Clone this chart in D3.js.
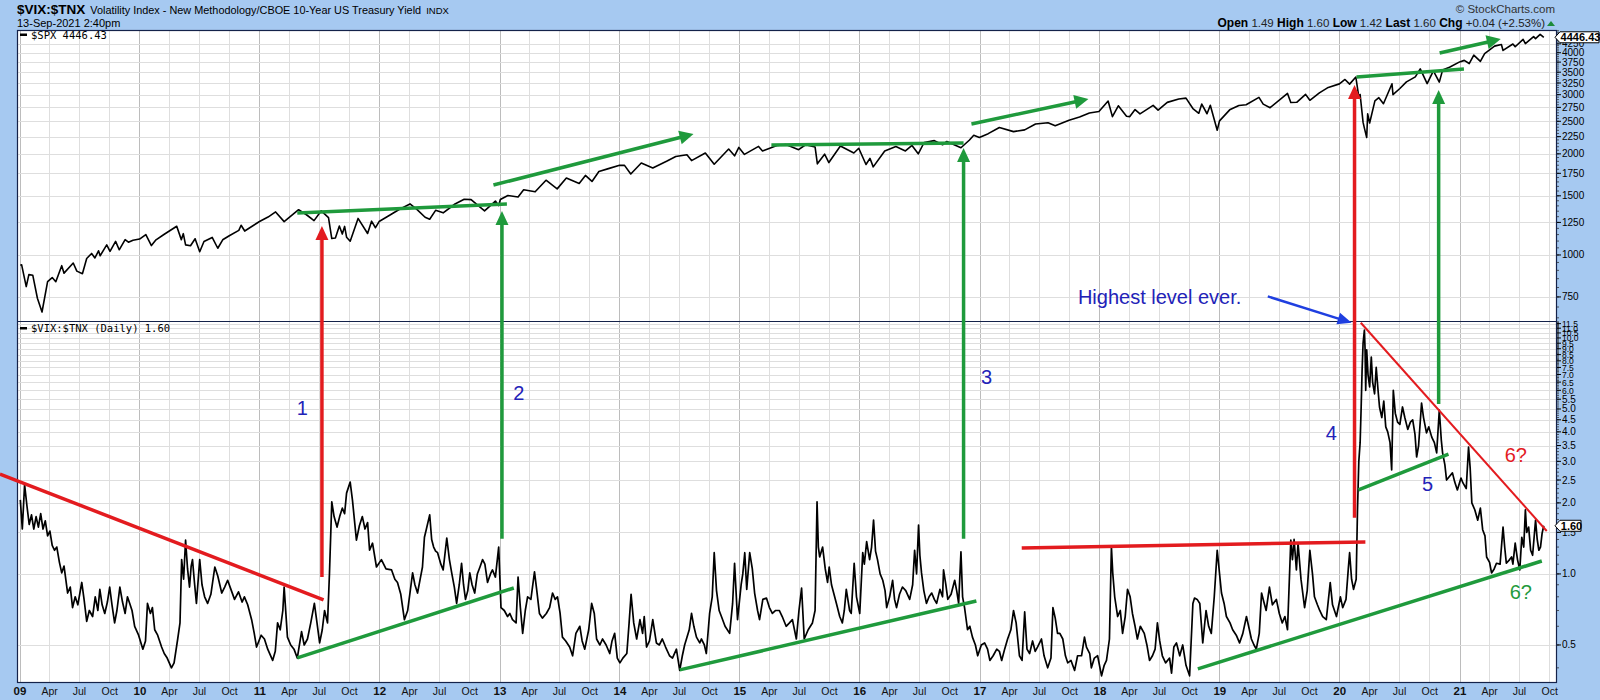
<!DOCTYPE html>
<html><head><meta charset="utf-8">
<script src="https://cdn.jsdelivr.net/npm/d3@7"></script>
<style>body{margin:0;background:#fff;}svg{display:block;font-family:"Liberation Sans",Arial,sans-serif;}</style>
</head><body><svg id="c" width="1600" height="700"></svg>
<script>
// ---------------- DATA ----------------
const spxSeries = [
["2009-01-02",931.8],["2009-01-06",934.7],["2009-01-20",805.2],["2009-01-28",874.1],["2009-02-09",869.9],["2009-02-23",743.3],["2009-03-09",676.5],["2009-03-26",832.9],["2009-04-09",856.6],["2009-04-20",832.4],["2009-05-08",929.2],["2009-05-15",882.9],["2009-06-12",946.2],["2009-06-23",895.1],["2009-07-10",879.1],["2009-07-23",976.3],["2009-08-07",1010.5],["2009-08-17",979.7],["2009-08-28",1028.9],["2009-09-02",994.8],["2009-09-22",1071.7],["2009-10-02",1025.2],["2009-10-19",1097.9],["2009-10-30",1036.2],["2009-11-17",1110.3],["2009-11-27",1091.5],["2009-12-11",1106.4],["2009-12-31",1115.1],
["2010-01-19",1150.2],["2010-02-05",1066.2],["2010-02-19",1109.2],["2010-03-15",1150.5],["2010-04-23",1217.3],["2010-05-07",1110.9],["2010-05-13",1157.4],["2010-05-20",1071.6],["2010-06-04",1064.9],["2010-06-18",1117.5],["2010-07-02",1022.6],["2010-07-15",1096.5],["2010-08-09",1127.8],["2010-08-26",1047.2],["2010-09-10",1109.6],["2010-09-30",1141.2],["2010-10-29",1183.3],["2010-11-05",1225.9],["2010-11-16",1178.3],["2010-12-31",1257.6],
["2011-01-26",1296.6],["2011-02-18",1343.0],["2011-03-16",1256.9],["2011-04-29",1363.6],["2011-05-23",1317.4],["2011-06-15",1265.4],["2011-07-07",1353.2],["2011-07-29",1292.3],["2011-08-08",1119.5],["2011-08-19",1123.5],["2011-08-31",1218.9],["2011-09-09",1154.2],["2011-09-16",1216.0],["2011-09-22",1129.6],["2011-10-03",1099.2],["2011-10-27",1284.6],["2011-11-25",1158.7],["2011-12-07",1261.0],["2011-12-19",1205.4],["2011-12-30",1257.6],
["2012-01-31",1312.4],["2012-02-29",1365.7],["2012-04-02",1419.0],["2012-04-23",1366.9],["2012-05-18",1295.2],["2012-06-01",1278.0],["2012-06-19",1357.9],["2012-07-12",1334.8],["2012-08-17",1418.2],["2012-09-14",1465.8],["2012-10-05",1460.9],["2012-11-15",1353.3],["2012-12-18",1446.8],["2012-12-28",1402.4],
["2013-01-02",1462.4],["2013-01-25",1502.9],["2013-02-25",1487.9],["2013-03-14",1563.2],["2013-04-18",1541.6],["2013-05-21",1669.2],["2013-06-24",1573.1],["2013-07-22",1695.5],["2013-08-30",1633.0],["2013-09-18",1725.5],["2013-10-08",1655.5],["2013-10-29",1771.9],["2013-11-27",1807.2],["2013-12-31",1848.4],
["2014-01-15",1848.4],["2014-02-03",1741.9],["2014-03-07",1878.0],["2014-04-11",1815.7],["2014-05-23",1900.5],["2014-06-20",1962.9],["2014-07-24",1987.0],["2014-08-07",1909.6],["2014-09-18",2011.4],["2014-10-15",1862.5],["2014-11-28",2067.6],["2014-12-16",1972.7],["2014-12-29",2090.6],
["2015-01-15",1992.7],["2015-02-27",2104.5],["2015-03-11",2040.2],["2015-04-24",2117.7],["2015-05-21",2130.8],["2015-06-29",2057.6],["2015-07-20",2128.3],["2015-08-18",2096.9],["2015-08-25",1867.6],["2015-09-16",1995.3],["2015-09-29",1884.1],["2015-11-03",2109.8],["2015-12-14",2012.0],["2015-12-29",2078.4],
["2016-01-20",1859.3],["2016-02-01",1939.4],["2016-02-11",1829.1],["2016-03-17",2040.6],["2016-04-20",2102.4],["2016-05-19",2040.0],["2016-06-08",2119.1],["2016-06-27",2000.5],["2016-07-15",2161.7],["2016-08-15",2190.2],["2016-09-09",2127.8],["2016-09-22",2177.2],["2016-11-04",2085.2],["2016-11-30",2198.8],["2016-12-13",2271.7],["2016-12-30",2238.8],
["2017-01-26",2296.7],["2017-03-01",2396.0],["2017-04-13",2329.0],["2017-05-17",2357.0],["2017-06-19",2453.5],["2017-07-27",2475.4],["2017-08-18",2425.6],["2017-09-29",2519.4],["2017-10-31",2575.3],["2017-11-30",2647.6],["2017-12-29",2673.6],
["2018-01-26",2872.9],["2018-02-08",2581.0],["2018-02-26",2779.6],["2018-03-23",2588.3],["2018-04-02",2581.9],["2018-04-18",2708.6],["2018-05-03",2629.7],["2018-06-12",2786.9],["2018-06-27",2699.6],["2018-07-25",2846.1],["2018-08-29",2914.0],["2018-09-20",2930.8],["2018-10-11",2728.4],["2018-10-29",2641.3],["2018-11-07",2813.9],["2018-11-23",2632.6],["2018-12-03",2790.4],["2018-12-24",2351.1],["2018-12-31",2506.9],
["2019-01-31",2704.1],["2019-02-28",2784.5],["2019-03-22",2800.7],["2019-04-30",2945.8],["2019-05-13",2811.9],["2019-06-03",2744.5],["2019-07-26",3025.9],["2019-08-05",2844.7],["2019-08-23",2847.1],["2019-09-19",3006.8],["2019-10-02",2887.6],["2019-10-31",3037.6],["2019-11-27",3153.6],["2019-12-31",3230.8],
["2020-01-17",3329.6],["2020-01-31",3225.5],["2020-02-19",3386.2],["2020-02-28",2954.2],["2020-03-03",3003.4],["2020-03-12",2480.6],["2020-03-16",2386.1],["2020-03-23",2237.4],["2020-03-26",2630.1],["2020-04-01",2470.5],["2020-04-17",2874.6],["2020-04-29",2939.5],["2020-05-13",2820.0],["2020-06-08",3232.4],["2020-06-11",3002.1],["2020-07-02",3130.0],["2020-07-22",3276.0],["2020-08-18",3389.8],["2020-09-02",3580.8],["2020-09-23",3236.9],["2020-10-12",3534.2],["2020-10-30",3270.0],["2020-11-09",3550.5],["2020-11-30",3622.0],["2020-12-31",3756.1],
["2021-01-14",3795.5],["2021-01-29",3714.2],["2021-02-12",3934.8],["2021-03-04",3768.5],["2021-03-17",3974.1],["2021-04-16",4185.5],["2021-05-07",4232.6],["2021-05-12",4063.0],["2021-06-11",4247.4],["2021-06-18",4166.5],["2021-07-12",4384.6],["2021-07-19",4258.5],["2021-08-13",4468.0],["2021-08-19",4405.8],["2021-09-02",4536.9],["2021-09-13",4446.43]
];

const ratioSeries = [
["2009-01-02",2.06],["2009-01-08",1.55],["2009-01-15",2.39],["2009-01-22",1.95],["2009-01-29",1.62],["2009-02-05",1.78],["2009-02-12",1.55],["2009-02-19",1.75],["2009-02-26",1.58],["2009-03-05",1.80],["2009-03-12",1.55],["2009-03-19",1.68],["2009-03-26",1.45],["2009-04-02",1.52],["2009-04-09",1.32],["2009-04-16",1.26],["2009-04-23",1.30],["2009-05-01",1.12],["2009-05-08",1.01],["2009-05-15",1.08],["2009-05-26",0.83],["2009-06-03",0.88],["2009-06-10",0.72],["2009-06-18",0.80],["2009-06-26",0.74],["2009-07-08",0.92],["2009-07-15",0.78],["2009-07-23",0.63],["2009-07-31",0.70],["2009-08-10",0.66],["2009-08-18",0.80],["2009-08-26",0.70],["2009-09-01",0.86],["2009-09-08",0.74],["2009-09-16",0.68],["2009-09-24",0.76],["2009-10-01",0.88],["2009-10-08",0.74],["2009-10-16",0.62],["2009-10-23",0.70],["2009-11-01",0.88],["2009-11-09",0.76],["2009-11-17",0.68],["2009-11-24",0.80],["2009-12-01",0.75],["2009-12-08",0.70],["2009-12-16",0.60],["2009-12-28",0.55],
["2010-01-10",0.48],["2010-01-18",0.52],["2010-01-24",0.75],["2010-02-02",0.68],["2010-02-08",0.72],["2010-02-15",0.58],["2010-02-24",0.55],["2010-03-08",0.49],["2010-03-16",0.46],["2010-03-25",0.44],["2010-04-07",0.40],["2010-04-15",0.42],["2010-04-26",0.53],["2010-05-03",0.62],["2010-05-08",1.15],["2010-05-14",0.95],["2010-05-20",1.39],["2010-05-26",1.05],["2010-06-01",0.88],["2010-06-06",1.08],["2010-06-10",1.15],["2010-06-16",0.92],["2010-06-22",0.75],["2010-07-02",1.15],["2010-07-09",0.90],["2010-07-17",0.80],["2010-07-26",0.75],["2010-08-05",0.82],["2010-08-17",1.07],["2010-08-26",0.98],["2010-09-07",0.83],["2010-09-16",0.88],["2010-09-25",0.94],["2010-10-05",0.86],["2010-10-16",0.78],["2010-10-28",0.84],["2010-11-08",0.76],["2010-11-15",0.80],["2010-11-25",0.74],["2010-12-07",0.64],["2010-12-15",0.56],["2010-12-22",0.49],
["2011-01-05",0.55],["2011-01-15",0.53],["2011-01-25",0.48],["2011-02-09",0.43],["2011-02-17",0.47],["2011-02-24",0.62],["2011-03-04",0.58],["2011-03-12",0.70],["2011-03-16",0.88],["2011-03-26",0.54],["2011-04-05",0.50],["2011-04-15",0.48],["2011-04-25",0.44],["2011-05-08",0.57],["2011-05-16",0.50],["2011-05-26",0.53],["2011-06-05",0.62],["2011-06-16",0.75],["2011-06-24",0.62],["2011-07-02",0.51],["2011-07-10",0.58],["2011-07-17",0.70],["2011-07-26",0.62],["2011-08-01",1.01],["2011-08-08",2.02],["2011-08-15",1.75],["2011-08-24",1.58],["2011-09-01",1.75],["2011-09-09",1.90],["2011-09-16",1.80],["2011-09-22",2.20],["2011-10-03",2.45],["2011-10-10",2.05],["2011-10-22",1.39],["2011-10-31",1.60],["2011-11-09",1.75],["2011-11-17",1.55],["2011-11-25",1.65],["2011-12-01",1.26],["2011-12-10",1.35],["2011-12-22",1.07],
["2012-01-06",1.15],["2012-01-20",1.05],["2012-02-06",1.04],["2012-02-16",0.95],["2012-02-24",0.92],["2012-03-05",0.82],["2012-03-16",0.64],["2012-03-26",0.70],["2012-04-10",1.01],["2012-04-17",0.90],["2012-04-25",0.83],["2012-05-03",0.95],["2012-05-10",1.07],["2012-05-16",1.43],["2012-05-22",1.55],["2012-06-01",1.78],["2012-06-07",1.40],["2012-06-13",1.30],["2012-06-19",1.25],["2012-06-25",1.23],["2012-07-05",1.10],["2012-07-12",1.04],["2012-07-23",1.42],["2012-07-31",1.15],["2012-08-07",1.01],["2012-08-15",0.88],["2012-08-22",0.75],["2012-08-30",0.90],["2012-09-06",1.11],["2012-09-12",0.90],["2012-09-18",0.78],["2012-09-25",0.85],["2012-10-01",1.01],["2012-10-08",0.90],["2012-10-16",0.83],["2012-10-24",1.00],["2012-11-01",1.07],["2012-11-09",1.15],["2012-11-16",1.10],["2012-11-24",0.92],["2012-12-03",1.00],["2012-12-09",1.04],["2012-12-18",0.97],["2012-12-28",1.30],
["2013-01-04",0.72],["2013-01-14",0.70],["2013-01-24",0.66],["2013-01-31",0.68],["2013-02-08",0.64],["2013-02-19",0.62],["2013-02-25",0.97],["2013-03-04",0.72],["2013-03-11",0.56],["2013-03-19",0.70],["2013-03-26",0.80],["2013-04-05",0.78],["2013-04-16",1.02],["2013-04-23",0.85],["2013-05-01",0.68],["2013-05-10",0.65],["2013-05-22",0.68],["2013-06-01",0.72],["2013-06-10",0.83],["2013-06-18",0.78],["2013-06-25",0.80],["2013-07-03",0.68],["2013-07-10",0.54],["2013-07-20",0.52],["2013-08-01",0.49],["2013-08-10",0.45],["2013-08-20",0.56],["2013-09-01",0.60],["2013-09-08",0.52],["2013-09-16",0.48],["2013-09-28",0.58],["2013-10-07",0.75],["2013-10-15",0.68],["2013-10-22",0.53],["2013-11-01",0.50],["2013-11-09",0.53],["2013-11-20",0.50],["2013-12-01",0.46],["2013-12-08",0.52],["2013-12-16",0.56],["2013-12-24",0.44],
["2014-01-01",0.42],["2014-01-10",0.44],["2014-01-22",0.46],["2014-01-29",0.62],["2014-02-04",0.82],["2014-02-12",0.62],["2014-02-21",0.53],["2014-03-03",0.64],["2014-03-11",0.56],["2014-03-16",0.66],["2014-03-23",0.49],["2014-04-01",0.52],["2014-04-11",0.64],["2014-04-22",0.51],["2014-05-01",0.50],["2014-05-10",0.53],["2014-05-20",0.49],["2014-06-01",0.45],["2014-06-10",0.44],["2014-06-22",0.48],["2014-07-02",0.39],["2014-07-10",0.45],["2014-07-17",0.50],["2014-07-31",0.58],["2014-08-07",0.68],["2014-08-14",0.60],["2014-08-22",0.54],["2014-09-01",0.51],["2014-09-06",0.53],["2014-09-15",0.50],["2014-09-21",0.46],["2014-10-01",0.68],["2014-10-09",0.80],["2014-10-15",1.23],["2014-10-22",0.85],["2014-10-30",0.70],["2014-11-06",0.66],["2014-11-17",0.60],["2014-12-01",0.56],["2014-12-10",0.75],["2014-12-16",1.11],["2014-12-25",0.64],
["2015-01-05",0.90],["2015-01-10",1.00],["2015-01-16",1.23],["2015-01-22",0.86],["2015-01-31",1.23],["2015-02-08",1.05],["2015-02-15",0.83],["2015-02-24",0.70],["2015-03-02",0.64],["2015-03-12",0.78],["2015-03-23",0.79],["2015-04-01",0.72],["2015-04-10",0.68],["2015-04-20",0.70],["2015-05-01",0.70],["2015-05-10",0.66],["2015-05-22",0.60],["2015-06-01",0.62],["2015-06-10",0.64],["2015-06-22",0.53],["2015-06-30",0.70],["2015-07-08",0.87],["2015-07-16",0.53],["2015-07-28",0.58],["2015-08-10",0.62],["2015-08-18",0.70],["2015-08-24",2.02],["2015-08-28",1.30],["2015-09-01",1.18],["2015-09-10",1.30],["2015-09-18",1.05],["2015-09-25",0.92],["2015-09-30",1.07],["2015-10-07",0.90],["2015-10-22",0.75],["2015-11-01",0.66],["2015-11-09",0.62],["2015-11-15",0.70],["2015-11-21",0.86],["2015-12-01",0.70],["2015-12-06",0.68],["2015-12-15",1.11],["2015-12-22",0.80],
["2016-01-01",0.68],["2016-01-10",1.23],["2016-01-15",1.10],["2016-01-22",1.37],["2016-01-31",1.15],["2016-02-06",1.30],["2016-02-12",1.69],["2016-02-18",1.25],["2016-02-24",1.15],["2016-03-03",1.00],["2016-03-11",0.94],["2016-03-18",0.85],["2016-03-23",0.72],["2016-04-01",0.80],["2016-04-10",0.94],["2016-04-16",0.78],["2016-04-22",0.72],["2016-05-01",0.82],["2016-05-10",0.88],["2016-05-20",0.85],["2016-06-01",0.78],["2016-06-10",0.90],["2016-06-16",1.26],["2016-06-22",1.00],["2016-06-28",1.61],["2016-07-02",1.20],["2016-07-07",1.01],["2016-07-14",0.85],["2016-07-22",0.75],["2016-07-30",0.80],["2016-08-07",0.83],["2016-08-15",0.78],["2016-08-22",0.75],["2016-09-01",0.86],["2016-09-09",0.80],["2016-09-12",1.04],["2016-09-19",0.90],["2016-09-25",0.78],["2016-10-05",0.82],["2016-10-16",0.94],["2016-10-22",0.85],["2016-10-28",0.75],["2016-11-04",1.24],["2016-11-09",0.80],["2016-11-15",0.72],["2016-11-24",0.58],["2016-12-01",0.60],["2016-12-09",0.54],["2016-12-18",0.50],["2016-12-25",0.45],
["2017-01-05",0.50],["2017-01-15",0.51],["2017-01-24",0.48],["2017-01-31",0.43],["2017-02-10",0.45],["2017-02-21",0.48],["2017-03-01",0.47],["2017-03-08",0.43],["2017-03-17",0.48],["2017-03-26",0.53],["2017-04-05",0.58],["2017-04-13",0.70],["2017-04-21",0.62],["2017-05-01",0.45],["2017-05-09",0.43],["2017-05-17",0.69],["2017-05-24",0.48],["2017-06-01",0.46],["2017-06-10",0.52],["2017-06-18",0.47],["2017-06-25",0.49],["2017-07-07",0.53],["2017-07-15",0.45],["2017-07-26",0.40],["2017-08-05",0.44],["2017-08-11",0.72],["2017-08-18",0.65],["2017-08-25",0.56],["2017-09-01",0.56],["2017-09-10",0.53],["2017-09-18",0.45],["2017-09-25",0.42],["2017-10-05",0.43],["2017-10-16",0.39],["2017-10-25",0.45],["2017-11-06",0.45],["2017-11-15",0.54],["2017-11-21",0.49],["2017-12-01",0.46],["2017-12-06",0.40],["2017-12-15",0.44],["2017-12-25",0.45],
["2018-01-06",0.37],["2018-01-14",0.41],["2018-01-21",0.43],["2018-01-30",0.53],["2018-02-05",1.30],["2018-02-09",1.01],["2018-02-15",0.80],["2018-02-24",0.66],["2018-03-04",0.70],["2018-03-11",0.56],["2018-03-19",0.66],["2018-03-26",0.86],["2018-04-03",0.80],["2018-04-10",0.68],["2018-04-18",0.60],["2018-04-25",0.53],["2018-05-04",0.60],["2018-05-16",0.56],["2018-05-24",0.50],["2018-06-01",0.43],["2018-06-10",0.45],["2018-06-18",0.48],["2018-06-25",0.62],["2018-07-02",0.52],["2018-07-10",0.45],["2018-07-20",0.42],["2018-08-01",0.44],["2018-08-07",0.38],["2018-08-14",0.49],["2018-08-22",0.51],["2018-09-01",0.45],["2018-09-10",0.50],["2018-09-20",0.41],["2018-10-01",0.37],["2018-10-11",0.75],["2018-10-16",0.79],["2018-10-24",0.78],["2018-11-01",0.75],["2018-11-10",0.51],["2018-11-20",0.70],["2018-11-28",0.60],["2018-12-06",0.56],["2018-12-15",0.80],["2018-12-24",1.26],
["2019-01-06",0.83],["2019-01-14",0.75],["2019-01-21",0.66],["2019-02-01",0.62],["2019-02-09",0.58],["2019-02-20",0.55],["2019-03-02",0.51],["2019-03-12",0.56],["2019-03-23",0.66],["2019-04-01",0.58],["2019-04-07",0.53],["2019-04-15",0.50],["2019-04-22",0.48],["2019-05-01",0.56],["2019-05-08",0.83],["2019-05-15",0.76],["2019-05-22",0.70],["2019-06-01",0.88],["2019-06-10",0.74],["2019-06-22",0.78],["2019-07-01",0.68],["2019-07-10",0.62],["2019-07-18",0.66],["2019-07-26",0.58],["2019-08-05",1.39],["2019-08-10",1.15],["2019-08-15",1.40],["2019-08-22",1.04],["2019-08-27",1.35],["2019-09-05",0.95],["2019-09-16",0.72],["2019-09-24",0.85],["2019-10-02",1.26],["2019-10-10",1.00],["2019-10-16",0.80],["2019-10-25",0.74],["2019-11-01",0.70],["2019-11-10",0.66],["2019-11-21",0.64],["2019-12-03",0.92],["2019-12-10",0.74],["2019-12-22",0.66],
["2020-01-03",0.80],["2020-01-10",0.72],["2020-01-20",0.78],["2020-01-27",1.05],["2020-01-31",1.23],["2020-02-06",0.95],["2020-02-12",0.86],["2020-02-20",0.95],["2020-02-24",1.87],["2020-02-28",3.00],["2020-03-03",3.60],["2020-03-06",5.00],["2020-03-09",7.30],["2020-03-12",9.50],["2020-03-16",10.8],["2020-03-18",9.00],["2020-03-20",6.0],["2020-03-23",8.9],["2020-03-27",7.0],["2020-04-01",6.2],["2020-04-06",8.3],["2020-04-10",6.5],["2020-04-16",5.8],["2020-04-21",7.5],["2020-04-27",5.9],["2020-05-01",5.1],["2020-05-08",4.6],["2020-05-14",5.4],["2020-05-20",4.2],["2020-05-26",4.0],["2020-06-02",3.6],["2020-06-07",2.76],["2020-06-12",6.0],["2020-06-18",4.8],["2020-06-25",4.4],["2020-07-02",4.3],["2020-07-10",5.1],["2020-07-17",4.6],["2020-07-26",4.1],["2020-08-03",4.4],["2020-08-10",4.5],["2020-08-17",3.9],["2020-08-22",3.13],["2020-08-28",3.5],["2020-09-06",5.3],["2020-09-12",4.6],["2020-09-21",3.96],["2020-09-28",4.2],["2020-10-07",3.8],["2020-10-15",3.6],["2020-10-22",3.26],["2020-10-30",4.95],["2020-11-05",3.7],["2020-11-09",3.26],["2020-11-16",2.9],["2020-11-21",2.5],["2020-12-01",2.6],["2020-12-09",2.68],["2020-12-16",2.45],["2020-12-24",2.27],
["2021-01-04",2.55],["2021-01-10",2.43],["2021-01-20",2.30],["2021-01-27",3.45],["2021-02-01",2.80],["2021-02-06",2.00],["2021-02-15",1.87],["2021-02-24",1.69],["2021-03-04",1.90],["2021-03-11",1.54],["2021-03-18",1.45],["2021-03-23",1.18],["2021-04-01",1.12],["2021-04-07",1.01],["2021-04-15",1.05],["2021-04-22",1.11],["2021-05-03",1.10],["2021-05-12",1.58],["2021-05-17",1.30],["2021-05-22",1.11],["2021-06-01",1.15],["2021-06-07",1.18],["2021-06-11",1.10],["2021-06-18",1.35],["2021-06-25",1.15],["2021-07-02",1.04],["2021-07-08",1.43],["2021-07-14",1.30],["2021-07-19",1.87],["2021-07-23",1.50],["2021-07-29",1.58],["2021-08-04",1.26],["2021-08-10",1.20],["2021-08-19",1.69],["2021-08-24",1.40],["2021-08-29",1.26],["2021-09-03",1.30],["2021-09-08",1.49],["2021-09-13",1.60]
];

const spxTicks = [750,1000,1250,1500,1750,2000,2250,2500,2750,3000,3250,3500,3750,4000,4250];
const ratioTicks = [0.5,1.0,1.5,2.0,2.5,3.0,3.5,4.0,4.5,5.0,5.5,6.0,6.5,7.0,7.5,8.0,8.5,9.0,9.5,10.0,10.5,11.0,11.5];
const spxLast = "4446.43";
const ratioLast = "1.60";
const quote = [["Open","1.49"],["High","1.60"],["Low","1.42"],["Last","1.60"],["Chg","+0.04 (+2.53%)"]];

// annotation geometry in data coordinates
const topLines = [
  ["2011-04-25",1334,"2013-01-22",1418],
  ["2015-04-07",2125,"2016-11-12",2154],
  ["2020-02-21",3385,"2021-01-13",3577]
];
const topArrows = [
  ["2012-12-12",1615,"2014-08-13",2292],
  ["2016-12-06",2455,"2017-11-27",2913],
  ["2020-10-31",3991,"2021-05-05",4393]
];
const crossArrows = [ // date, bottom value (ratio), tip value (SPX), colour
  ["2011-07-09",0.971,1220,"r"],
  ["2013-01-07",1.41,1352,"g"],
  ["2016-11-12",1.41,2081,"g"],
  ["2020-02-15",1.73,3206,"r"],
  ["2020-10-28",5.25,3098,"g"]
];
const botLines = [
  ["2008-11-01",2.65,"2011-07-14",0.776,"r",3.5],
  ["2011-04-25",0.441,"2013-02-12",0.872,"g",3.5],
  ["2014-07-02",0.392,"2016-12-21",0.768,"g",3.5],
  ["2017-05-08",1.289,"2020-03-19",1.366,"r",3.5],
  ["2018-10-26",0.396,"2021-09-07",1.135,"g",3.5],
  ["2020-02-27",2.27,"2020-11-27",3.22,"g",3.5],
  ["2020-03-05",11.6,"2021-09-22",1.52,"r",2]
];
const blueArrow = ["2019-05-27",15.0,"2020-02-06",11.6];
const notes = [
  ["1","2011-05-10",5.05,"b"],["2","2013-02-27",5.85,"b"],["3","2017-01-21",6.83,"b"],
  ["4","2019-12-06",3.96,"b"],["5","2020-09-24",2.41,"b"],["6?","2021-06-20",3.19,"r"],["6?","2021-07-05",0.839,"g"]
];
const headline = ["Highest level ever.","2017-10-26",14.9];

// ---------------- DRAW ----------------
const W=1600,H=700,L=17,R=1557,T=30,MID=321,B=683;
const BLUE="#a6c9f1", RED="#e31b1f", GREEN="#1f9a3c", NAVY="#2222b8";
const col = {r:RED,g:GREEN,b:NAVY};
const parse = d3.utcParse("%Y-%m-%d");
const svg = d3.select("#c");

const x = d3.scaleUtc().domain([new Date(Date.UTC(2009,0,1)), new Date(Date.UTC(2021,0,1))]).range([20,1460]);
const yT = d3.scaleLog().domain([636,4674]).range([MID,T]);
const yB = d3.scaleLog().domain([0.345,11.8]).range([B,MID]);

svg.append("rect").attr("width",W).attr("height",H).attr("fill",BLUE);
svg.append("rect").attr("x",L).attr("y",T).attr("width",R-L).attr("height",B-T).attr("fill","#fff");

const defs = svg.append("defs");
defs.append("clipPath").attr("id","ct").append("rect").attr("x",L).attr("y",T).attr("width",R-L).attr("height",MID-T);
defs.append("clipPath").attr("id","cb").append("rect").attr("x",L).attr("y",MID).attr("width",R-L).attr("height",B-MID);

// grid
const qTicks = d3.utcMonth.every(3).range(new Date(Date.UTC(2009,0,1)), new Date(Date.UTC(2021,9,2)));
const grid = svg.append("g");
grid.selectAll(".hv").data(qTicks).join("line")
  .attr("x1",d=>x(d)).attr("x2",d=>x(d)).attr("y1",T).attr("y2",B)
  .attr("stroke",d=>d.getUTCMonth()===0?"#bcbcbc":"#dedede").attr("stroke-width",1).attr("shape-rendering","crispEdges");
grid.selectAll(".ht").data(spxTicks).join("line")
  .attr("x1",L).attr("x2",R).attr("y1",d=>Math.round(yT(d))+0.5).attr("y2",d=>Math.round(yT(d))+0.5)
  .attr("stroke","#dedede");
grid.selectAll(".hb").data(ratioTicks).join("line")
  .attr("x1",L).attr("x2",R).attr("y1",d=>Math.round(yB(d))+0.5).attr("y2",d=>Math.round(yB(d))+0.5)
  .attr("stroke","#dedede");

// series
const spx = spxSeries.map(d=>({d:parse(d[0]),v:d[1]}));
const rat = ratioSeries.map(d=>({d:parse(d[0]),v:d[1]}));
svg.append("path").datum(spx).attr("clip-path","url(#ct)")
  .attr("d",d3.line().x(p=>x(p.d)).y(p=>yT(p.v)))
  .attr("fill","none").attr("stroke","#000").attr("stroke-width",1.6).attr("stroke-linejoin","round");
svg.append("path").datum(rat).attr("clip-path","url(#cb)")
  .attr("d",d3.line().x(p=>x(p.d)).y(p=>yB(p.v)))
  .attr("fill","none").attr("stroke","#000").attr("stroke-width",1.7).attr("stroke-linejoin","round");

// frame
svg.append("rect").attr("x",L+0.5).attr("y",T+0.5).attr("width",R-L-1).attr("height",B-T-1)
  .attr("fill","none").attr("stroke","#14224a").attr("stroke-width",1.2);
svg.append("line").attr("x1",L).attr("x2",R).attr("y1",MID+0.5).attr("y2",MID+0.5).attr("stroke","#14224a").attr("stroke-width",1.2);

// right axes
const ax = svg.append("g").attr("font-size",10).attr("fill","#000");
const minorT = d3.range(650,4700,50), minorB = d3.range(0.4,11.75,0.1);
ax.selectAll(".mt").data(minorT).join("line").attr("x1",R).attr("x2",R+2).attr("y1",d=>yT(d)).attr("y2",d=>yT(d)).attr("stroke","#333").attr("stroke-width",0.8);
ax.selectAll(".mb").data(minorB).join("line").attr("x1",R).attr("x2",R+2).attr("y1",d=>yB(d)).attr("y2",d=>yB(d)).attr("stroke","#333").attr("stroke-width",0.8);
ax.selectAll(".tt").data(spxTicks).join("line").attr("x1",R).attr("x2",R+4).attr("y1",d=>yT(d)).attr("y2",d=>yT(d)).attr("stroke","#000");
ax.selectAll(".tb").data(ratioTicks).join("line").attr("x1",R).attr("x2",R+4).attr("y1",d=>yB(d)).attr("y2",d=>yB(d)).attr("stroke","#000");
ax.selectAll(".lt").data(spxTicks).join("text").attr("x",R+5).attr("y",d=>yT(d)+3.5).text(d=>d);
ax.selectAll(".lb").data(ratioTicks).join("text").attr("x",R+5).attr("y",d=>yB(d)+3.5)
  .attr("font-size",d=>d>=6?8.5:10).text(d3.format(".1f"));

function valueBox(yv, txt, w){
  const g = svg.append("g");
  g.append("path").attr("d",`M${R-2},${yv} L${R+3},${yv-5.5} L${R+3+w},${yv-5.5} L${R+3+w},${yv+5.5} L${R+3},${yv+5.5} Z`)
    .attr("fill","#fff").attr("stroke","#000").attr("stroke-width",1);
  g.append("text").attr("x",R+4+w/2).attr("y",yv+4).attr("text-anchor","middle")
    .attr("font-size",11).attr("font-weight","bold").text(txt);
}
valueBox(yT(spx[spx.length-1].v), spxLast, 39);
valueBox(yB(rat[rat.length-1].v), ratioLast, 21);

// bottom axis labels
const xl = svg.append("g").attr("text-anchor","middle");
xl.selectAll("text").data(qTicks).join("text")
  .attr("x",d=>x(d)).attr("y",695)
  .attr("font-weight",d=>d.getUTCMonth()===0?"bold":"normal")
  .attr("font-size",d=>d.getUTCMonth()===0?11.5:10.5)
  .attr("fill","#111")
  .text(d=>d.getUTCMonth()===0?d3.utcFormat("%y")(d):d3.utcFormat("%b")(d));

// header
const t1 = svg.append("text").attr("x",17).attr("y",14).attr("font-size",13.5).attr("font-weight","bold").text("$VIX:$TNX");
const t1w = t1.node().getComputedTextLength();
const t2 = svg.append("text").attr("x",17+t1w+5).attr("y",13.5).attr("font-size",11.5).text("Volatility Index - New Methodology/CBOE 10-Year US Treasury Yield");
const t2w0 = t2.node().getComputedTextLength();
t2.attr("font-size", 11.5*Math.min(1, 331/t2w0));
const t2w = t2.node().getComputedTextLength();
svg.append("text").attr("x",17+t1w+5+t2w+5).attr("y",13.5).attr("font-size",9.5).text("INDX");
svg.append("text").attr("x",17).attr("y",27).attr("font-size",11).text("13-Sep-2021 2:40pm");
svg.append("text").attr("x",1555).attr("y",13).attr("font-size",11.5).attr("text-anchor","end").attr("fill","#333").text("© StockCharts.com");
const q = svg.append("text").attr("x",1545).attr("y",27).attr("font-size",11.5).attr("text-anchor","end");
quote.forEach((p,i)=>{
  q.append("tspan").attr("font-weight","bold").attr("font-size",12).text((i?"  ":"")+p[0]);
  q.append("tspan").attr("fill","#222").text(" "+p[1]);
});
svg.append("path").attr("d","M1547,26 L1551,21 L1555,26 Z").attr("fill","#1c8a3a");

// panel legends
const mono = '"DejaVu Sans Mono","Liberation Mono",monospace';
svg.append("rect").attr("x",20).attr("y",33.5).attr("width",7).attr("height",2.5).attr("fill","#000");
svg.append("text").attr("x",31).attr("y",38.5).attr("font-family",mono).attr("font-size",10.5).text("$SPX " + spxLast);
svg.append("rect").attr("x",20).attr("y",327).attr("width",7).attr("height",2.5).attr("fill","#000");
svg.append("text").attr("x",31).attr("y",332).attr("font-family",mono).attr("font-size",10.5).text("$VIX:$TNX (Daily) " + ratioLast);

// annotations
const ann = svg.append("g");
function seg(x1,y1,x2,y2,c,w){ann.append("line").attr("x1",x1).attr("y1",y1).attr("x2",x2).attr("y2",y2).attr("stroke",c).attr("stroke-width",w).attr("stroke-linecap","butt");}
function arrow(x1,y1,x2,y2,c,w,len,hw){
  const dx=x2-x1, dy=y2-y1, n=Math.hypot(dx,dy), ux=dx/n, uy=dy/n;
  const bx=x2-ux*len, by=y2-uy*len;
  seg(x1,y1,bx+ux*1,by+uy*1,c,w);
  ann.append("path").attr("d",`M${x2},${y2} L${bx-uy*hw},${by+ux*hw} L${bx+uy*hw},${by-ux*hw} Z`).attr("fill",c);
}
topLines.forEach(a=>seg(x(parse(a[0])),yT(a[1]),x(parse(a[2])),yT(a[3]),GREEN,3.5));
topArrows.forEach(a=>arrow(x(parse(a[0])),yT(a[1]),x(parse(a[2])),yT(a[3]),GREEN,3.5,14,7));
crossArrows.forEach(a=>{const xx=x(parse(a[0])); arrow(xx,yB(a[1]),xx,yT(a[2]),col[a[3]],3.5,14,6.5);});
botLines.forEach(a=>seg(x(parse(a[0])),yB(a[1]),x(parse(a[2])),yB(a[3]),col[a[4]],a[5]));
arrow(x(parse(blueArrow[0])),yB(blueArrow[1]),x(parse(blueArrow[2])),yB(blueArrow[3]),"#1f3fe0",2.5,14,6);
notes.forEach(n=>ann.append("text").attr("x",x(parse(n[1]))).attr("y",yB(n[2])).attr("dy","0.35em")
  .attr("text-anchor","middle").attr("font-size",20).attr("fill",col[n[3]]).text(n[0]));
ann.append("text").attr("x",x(parse(headline[1]))).attr("y",yB(headline[2])).attr("dy","0.35em")
  .attr("font-size",20).attr("fill",NAVY).text(headline[0]);
</script></body></html>
